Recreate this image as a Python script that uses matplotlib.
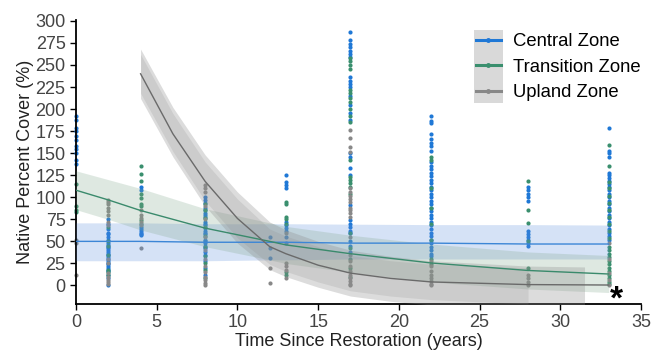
import numpy as np
import matplotlib
matplotlib.use("Agg")
import matplotlib.pyplot as plt
from matplotlib.lines import Line2D
from matplotlib.patches import Rectangle

plt.rcParams['font.family'] = ['Liberation Sans', 'DejaVu Sans']

#### Observed cover per site age (years) ####
obs = {
    'Central Zone': {
        0: [192, 188, 178, 175, 170, 165, 158, 155, 150, 142, 138],
        2: [75, 70, 64, 60, 58, 55, 52, 48, 46, 44, 42, 40, 38, 36, 34, 32, 30, 28, 26, 24, 22, 20, 18, 16, 12, 8, 0],
        4: [112, 108, 66, 64, 62, 60, 58, 57],
        8: [100, 97, 94, 88, 85, 82, 80, 78, 72, 70, 68, 65, 62, 60, 58, 52, 50, 48, 45, 42, 38, 35, 28, 20, 12],
        12: [55, 42, 31],
        13: [125, 117, 114, 110, 72, 68, 65, 62, 55, 48],
        17: [287, 278, 274, 270, 266, 262, 259, 236, 232, 228, 225, 215, 205, 195, 188, 150, 146, 133, 125, 91, 74, 70, 66, 62, 59, 50, 45, 38],
        22: [192, 187, 184, 172, 166, 162, 158, 152, 140, 136, 132, 128, 124, 120, 116, 112, 108, 104, 100, 96, 92, 88, 84, 80, 76, 72, 68, 64, 60, 56, 52, 48, 44, 40, 36, 33],
        28: [112, 108, 104, 100, 96, 62, 58, 55, 52, 48, 45],
        33: [178, 153, 150, 146, 128, 125, 122, 119, 115, 112, 108, 104, 100, 96, 92, 88, 84, 80, 76, 72, 68, 64, 60, 56, 52],
    },
    'Transition Zone': {
        0: [115, 90, 86, 83],
        2: [66, 50, 45, 35, 17, 15, 12],
        4: [136, 126, 118, 104, 99, 92, 90, 74, 70],
        8: [92, 86, 76, 66, 56, 44, 33, 25, 18, 8],
        13: [95, 92, 78, 75, 70, 15, 12],
        17: [258, 254, 250, 246, 222, 218, 212, 208, 200, 192, 185, 142, 123, 120, 116, 112, 104, 60, 42, 30, 20, 10],
        22: [146, 142, 110, 88, 70, 52, 30, 24],
        28: [118, 85, 71, 50, 20],
        33: [159, 136, 117, 110, 102, 94, 86, 78, 70, 62, 54, 44, 40, 36, 32, 28, 24, 20, 16, 12, 8, 4, 2],
    },
    'Upland Zone': {
        0: [52, 48, 12],
        2: [97, 95, 92, 88, 84, 80, 72, 68, 30, 25, 14, 10, 6, 4, 2],
        4: [86, 80, 76, 72, 68, 42],
        8: [114, 110, 106, 90, 75, 55, 40, 30, 22, 15, 10, 6, 3, 1],
        12: [20, 3],
        13: [60, 25, 22, 18, 8],
        17: [176, 167, 157, 151, 110, 106, 102, 98, 95, 88, 85, 82, 78, 55, 35, 28, 22, 16, 12, 8, 5, 2, 0],
        22: [28, 22, 16, 12, 8, 5, 2, 0],
        28: [12, 8, 4, 1],
        33: [48, 30, 14, 6, 1],
    },
}

#### Fitted curves and confidence bands ####
central_x = [0, 2, 4, 8, 12, 13, 17, 22, 28, 33]
central_fit = [50, 50, 50, 49, 49, 49, 48, 48, 47, 47]
central_lo = [28, 28, 28, 28, 29, 29, 30, 30, 30, 30]
central_hi = [71, 71, 71, 70, 70, 70, 69.5, 69, 69, 68.5]

trans_x = [0, 2, 4, 8, 12, 13, 17, 22, 28, 33]
trans_fit = [108, 97, 85, 65, 50, 46, 36, 25.5, 17, 13]
trans_lo = [86, 75, 63, 44, 29, 25, 15, 4, -4, -8]
trans_hi = [130, 120, 110, 87, 71, 67, 57, 47, 38, 34]

upland_x = [4, 6, 8, 10, 12, 13, 15, 17, 19.5, 22, 28, 33]
upland_fit = [240, 172, 118, 76, 44, 36, 23, 14, 8, 4, 1, 0.5]
upland_band_x = [4, 6, 8, 10, 12, 13, 15, 17, 19.5, 22, 28, 31.5]
upland_lo = [212, 146, 90, 48, 18, 10, -2, -12, -18, -22, -25, -25]
upland_hi = [268, 202, 148, 106, 72, 63, 50, 40, 33, 28, 22, 21]
upland_lo2 = [218, 152, 96, 54, 24, 16, 4, -6, -12, -16, -21, -22]
upland_hi2 = [262, 195, 140, 98, 64, 56, 44, 34, 28, 24, 20, 19]

colors = {'Central Zone': '#1f78d6', 'Transition Zone': '#3a8f6e', 'Upland Zone': '#888888'}

fig = plt.figure(figsize=(6.62, 3.52), dpi=100)
ax = fig.add_axes([0.1148, 0.1364, 0.8535, 0.8068])

#### Scatter of observations ####
for zone, cols in obs.items():
    for xv, vals in cols.items():
        ax.scatter([xv] * len(vals), vals, s=9, color=colors[zone], linewidths=0, zorder=2, clip_on=False)

#### Bands ####
ax.fill_between(central_x, central_lo, central_hi, color='#5b8fdc', alpha=0.25, lw=0, zorder=3)
ax.fill_between(trans_x, trans_lo, trans_hi, color='#7fa68a', alpha=0.25, lw=0, zorder=3)
ax.fill_between(upland_band_x, upland_lo, upland_hi, color='#8c8c8c', alpha=0.3, lw=0, zorder=3)
ax.fill_between(upland_x[:-1], upland_lo2[:-1], upland_hi2[:-1], color='#8c8c8c', alpha=0.2, lw=0, zorder=3)

#### Fit lines ####
ax.plot(central_x, central_fit, color='#3c86d6', lw=1, zorder=4)
ax.plot(trans_x, trans_fit, color='#3a8a6c', lw=1, zorder=4)
ax.plot(upland_x, upland_fit, color='#6a6a6a', lw=1, zorder=4)

ax.text(33.5, -16, '*', fontsize=24, fontweight='bold', ha='center', va='center', zorder=5)

ax.set_xlim(0, 35)
ax.set_ylim(-21, 301)
ax.set_xticks(range(0, 36, 5))
ax.set_yticks(range(0, 301, 25))
ax.spines['top'].set_visible(False)
ax.spines['right'].set_visible(False)
ax.spines['left'].set_linewidth(1.3)
ax.spines['bottom'].set_linewidth(1.3)
ax.tick_params(axis='both', labelsize=13, labelcolor='#444444', length=4, width=1, direction='out')
ax.set_xlabel('Time Since Restoration (years)', fontsize=13, color='#222222', labelpad=1)
ax.set_ylabel('Native Percent Cover (%)', fontsize=13, color='#222222', labelpad=1)

#### Legend with grey key background ####
handles = [Line2D([], [], color=colors[z], lw=2.2, marker='o', markersize=2.5) for z in obs]
leg = ax.legend(handles, list(obs.keys()), loc='upper left', bbox_to_anchor=(0.708, 0.954),
                frameon=False, fontsize=13.3, handlelength=1.35, handletextpad=0.65,
                labelspacing=0.47, borderpad=0, borderaxespad=0)
fig.canvas.draw()
hb = [h.get_window_extent() for h in leg.legend_handles]
tb = [t.get_window_extent() for t in leg.get_texts()]
x0 = min(b.x0 for b in hb)
x1 = max(b.x1 for b in hb)
y0 = min(b.y0 for b in tb) - 2
y1 = max(b.y1 for b in tb) + 3
inv = ax.transAxes.inverted()
(ax0, ay0), (ax1, ay1) = inv.transform([(x0, y0), (x1, y1)])
ax.add_patch(Rectangle((ax0, ay0), ax1 - ax0, ay1 - ay0, transform=ax.transAxes,
                       facecolor='#d9d9d9', edgecolor='none', clip_on=False, zorder=4.5))

fig.savefig('out.png', dpi=100)
